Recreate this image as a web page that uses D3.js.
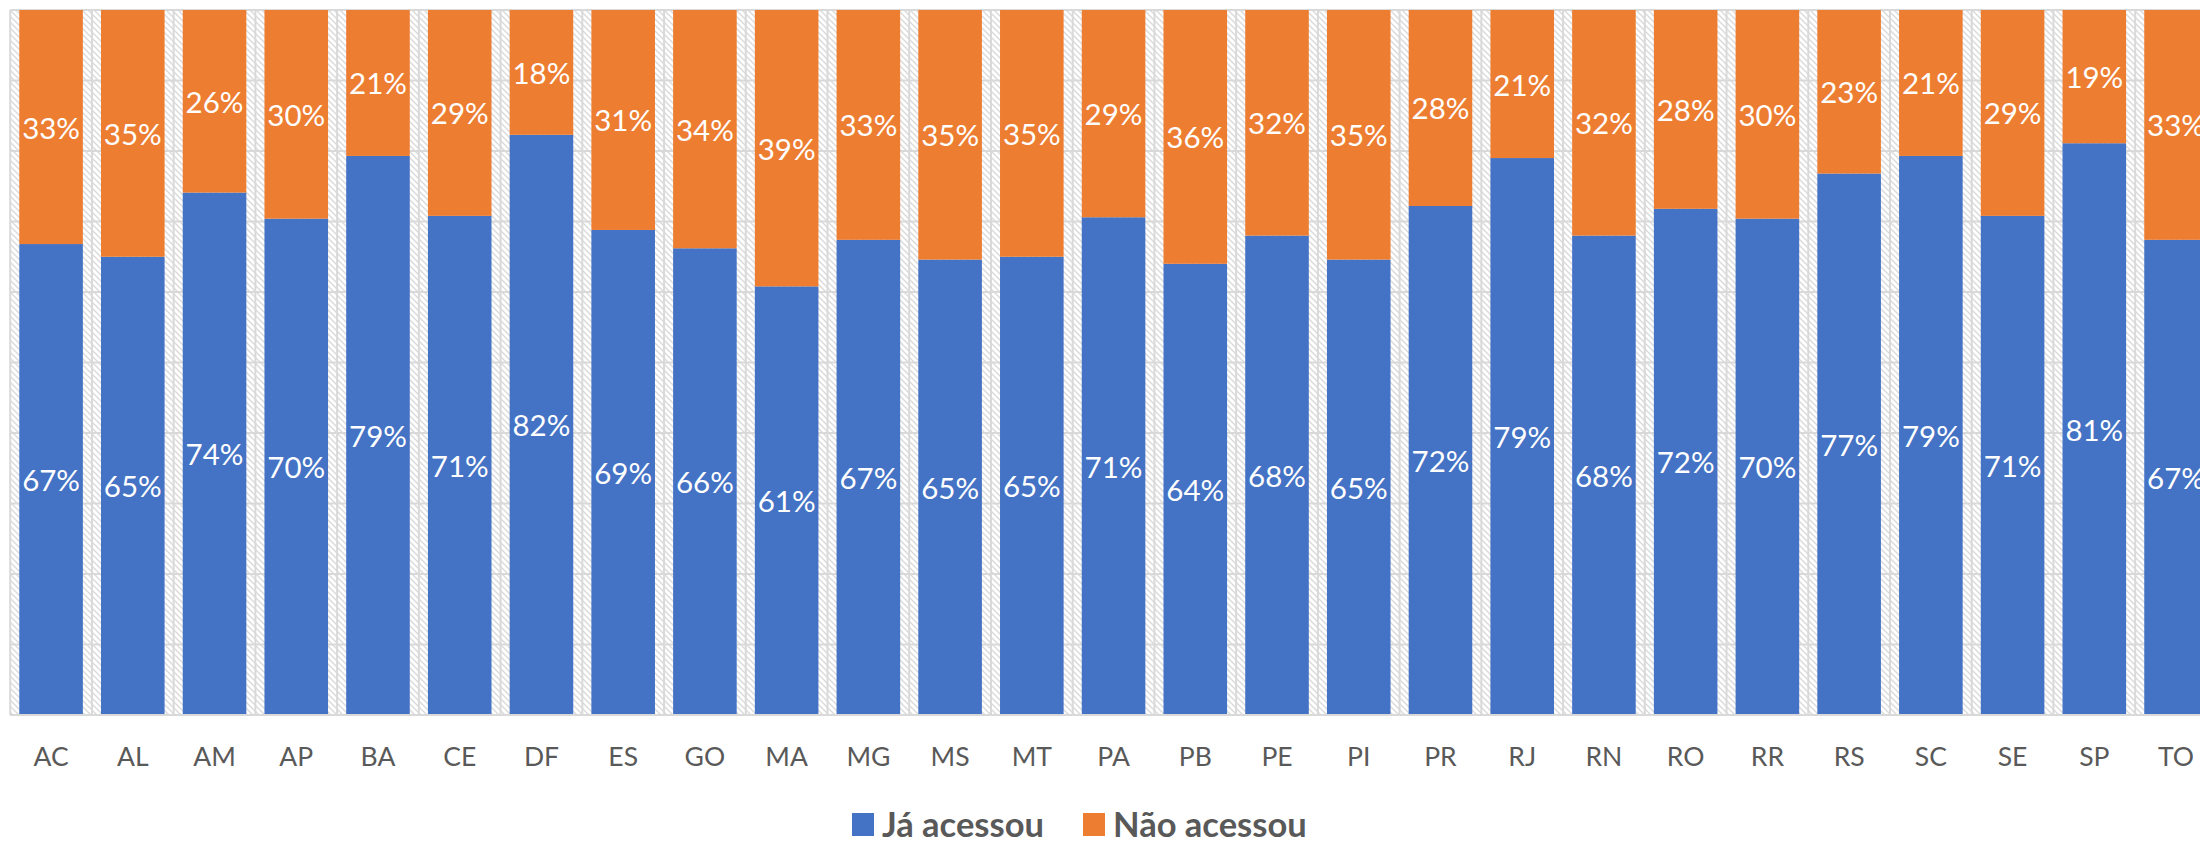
<!DOCTYPE html>
<html><head><meta charset="utf-8">
<script src="https://cdn.jsdelivr.net/npm/d3@7"></script>
<style>body{margin:0;background:#fff;overflow:hidden}svg{display:block}</style>
</head><body>
<svg id="c" width="2200" height="843"></svg>
<script>
const categories = ["AC","AL","AM","AP","BA","CE","DF","ES","GO","MA","MG","MS","MT","PA","PB","PE","PI","PR","RJ","RN","RO","RR","RS","SC","SE","SP","TO"];
const jaAcessou = [0.668,0.650,0.741,0.704,0.793,0.708,0.823,0.688,0.662,0.608,0.674,0.646,0.650,0.706,0.640,0.680,0.646,0.722,0.790,0.680,0.718,0.704,0.768,0.793,0.708,0.811,0.674];
const naoAcessou = [0.332,0.350,0.259,0.296,0.207,0.292,0.177,0.312,0.338,0.392,0.326,0.354,0.350,0.294,0.360,0.320,0.354,0.278,0.210,0.320,0.282,0.296,0.232,0.207,0.292,0.189,0.326];
const seriesNames = ["Já acessou","Não acessou"];
const colors = ["#4472C4","#ED7D31"];
const yTicks = [0,0.1,0.2,0.3,0.4,0.5,0.6,0.7,0.8,0.9,1];

(function(){
const svg = d3.select("#c");
const mLeft = 10.2, mTop = 10, mBottom = 715, mRight = mLeft + 27*81.73;
const x = d3.scaleBand().domain(categories).range([mLeft, mRight]).paddingInner(0.222).paddingOuter(0.111);
const y = d3.scaleLinear().domain([0,1]).range([mBottom, mTop]);

const defs = svg.append("defs");
const pat = defs.append("pattern").attr("id","hatch").attr("patternUnits","userSpaceOnUse").attr("width",6).attr("height",6);
pat.append("rect").attr("width",6).attr("height",6).attr("fill","#fff");
pat.append("path").attr("d","M-1,-1 L7,7 M-1,5 L1,7 M5,-1 L7,1").attr("stroke","#dadada").attr("stroke-width",1.4);

svg.append("rect").attr("x",mLeft).attr("y",mTop).attr("width",mRight-mLeft).attr("height",mBottom-mTop).attr("fill","url(#hatch)");

svg.append("g").selectAll("line").data(yTicks).join("line")
  .attr("x1",mLeft).attr("x2",mRight).attr("y1",d=>y(d)).attr("y2",d=>y(d))
  .attr("stroke","#d9d9d9").attr("stroke-width",2);
const step = x.step();
const bounds = d3.range(categories.length+1).map(i=>mLeft+i*step);
svg.append("g").selectAll("line").data(bounds).join("line")
  .attr("x1",d=>d).attr("x2",d=>d).attr("y1",mTop).attr("y2",mBottom)
  .attr("stroke","#d9d9d9").attr("stroke-width",2);

const stackData = categories.map((c,i)=>({cat:c, ja:jaAcessou[i], nao:naoAcessou[i]}));
const stack = d3.stack().keys(["ja","nao"])(stackData);

const g = svg.append("g");
stack.forEach((s,si)=>{
  g.append("g").attr("fill",colors[si]).selectAll("rect").data(s).join("rect")
    .attr("x",d=>x(d.data.cat)).attr("width",x.bandwidth())
    .attr("y",d=>y(d[1])).attr("height",d=>y(d[0])-y(d[1]));
  g.append("g").selectAll("text").data(s).join("text")
    .attr("x",d=>x(d.data.cat)+x.bandwidth()/2)
    .attr("y",d=>(y(d[0])+y(d[1]))/2)
    .attr("text-anchor","middle").attr("dominant-baseline","central")
    .attr("fill","#fff").attr("font-family","Lato, Carlito, sans-serif").attr("font-size",29.5)
    .text(d=>d3.format(".0%")(d[1]-d[0]));
});

svg.append("line").attr("x1",mLeft).attr("x2",mRight).attr("y1",mBottom).attr("y2",mBottom).attr("stroke","#d9d9d9").attr("stroke-width",2);

const xAxis = svg.append("g").attr("transform",`translate(0,${mBottom})`).call(d3.axisBottom(x).tickSize(0).tickPadding(32));
xAxis.select(".domain").remove();
xAxis.selectAll("text").attr("font-family","Lato, Carlito, sans-serif").attr("font-size",26.5).attr("fill","#595959");

const leg = svg.append("g").attr("font-family","Lato, Carlito, sans-serif").attr("font-weight","bold").attr("font-size",34.5).attr("fill","#595959");
const legX = [852, 1083];
seriesNames.forEach((n,i)=>{
  leg.append("rect").attr("x",legX[i]).attr("y",813).attr("width",22).attr("height",23).attr("fill",colors[i]);
  leg.append("text").attr("x",legX[i]+30).attr("y",837).text(n);
});
})();
</script>
</body></html>
